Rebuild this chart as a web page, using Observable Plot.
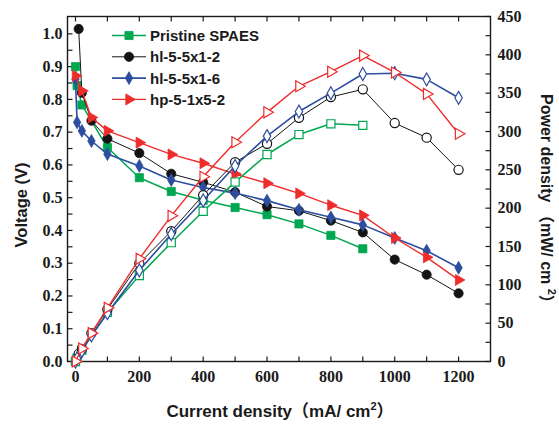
<!DOCTYPE html>
<html><head><meta charset="utf-8">
<script src="https://cdn.jsdelivr.net/npm/d3@7"></script>
<script src="https://cdn.jsdelivr.net/npm/@observablehq/plot@0.6"></script>
<style>
body{margin:0;background:#fff}
#chart{position:relative;width:559px;height:427px}
</style>
</head><body><div id="chart"></div>
<script>
// ---- data ----
const seriesNames = ["Pristine SPAES", "hl-5-5x1-2", "hl-5-5x1-6", "hp-5-1x5-2"];
const seriesColors = ["#00a650", "#141414", "#2d4e9f", "#ee2c2c"];

const xPristine = [0, 5, 20, 100, 200, 300, 400, 500, 600, 700, 800, 900];
const vPristine = [0.900, 0.842, 0.783, 0.653, 0.561, 0.519, 0.492, 0.470, 0.448, 0.420, 0.385, 0.344];
const pPristine = [0, 4, 15, 64, 112, 155, 196, 234, 270, 296, 310, 308];

const xHl2 = [10, 20, 50, 100, 200, 300, 400, 500, 600, 700, 800, 900, 1000, 1100, 1200];
const vHl2 = [1.015, 0.820, 0.735, 0.680, 0.636, 0.573, 0.547, 0.517, 0.473, 0.460, 0.430, 0.394, 0.311, 0.265, 0.208];
const pHl2 = [10, 16, 37, 68, 128, 170, 217, 260, 284, 318, 345, 355, 311, 292, 250];

const xHl6 = [0, 5, 20, 50, 100, 200, 300, 400, 500, 600, 700, 800, 900, 1000, 1100, 1200];
const vHl6 = [0.862, 0.730, 0.704, 0.673, 0.633, 0.597, 0.554, 0.531, 0.514, 0.491, 0.463, 0.440, 0.417, 0.377, 0.338, 0.286];
const pHl6 = [0, 4, 14, 34, 63, 119, 166, 210, 255, 294, 326, 350, 375, 376, 368, 344];

const xHp2 = [0, 20, 50, 100, 200, 300, 400, 500, 600, 700, 800, 900, 1000, 1100, 1200];
const vHp2 = [0.872, 0.826, 0.745, 0.704, 0.668, 0.632, 0.605, 0.572, 0.544, 0.513, 0.477, 0.446, 0.377, 0.318, 0.249];
const pHp2 = [0, 17, 37, 70, 134, 190, 241, 286, 325, 359, 378, 399, 377, 349, 297];

const xTicks = [0, 200, 400, 600, 800, 1000, 1200];
const xMinorTicks = [0, 100, 200, 300, 400, 500, 600, 700, 800, 900, 1000, 1100, 1200];
const vTicks = [0.0, 0.1, 0.2, 0.3, 0.4, 0.5, 0.6, 0.7, 0.8, 0.9, 1.0];
const vMinorTicks = d3.range(0, 1.05, 0.05);
const pTicks = [0, 50, 100, 150, 200, 250, 300, 350, 400, 450];
const pMinorTicks = d3.range(0, 451, 25);

const xDomain = [-25, 1300];
const vMax = 1.053, pMax = 450;
const k = vMax / pMax; // power -> voltage-scale factor

// ---- build rows ----
const raw = [
  [xPristine, vPristine, pPristine],
  [xHl2, vHl2, pHl2],
  [xHl6, vHl6, pHl6],
  [xHp2, vHp2, pHp2]
];
const symbols = ["square", "circle", "diamond", "triangle"];
const radii = [4.6, 4.6, 3.9, 4.1];
const rotates = [0, 0, 0, 90];
const widths = [1.5, 1.0, 1.6, 1.4];

const tickSym = (dx, dy) => ({draw(ctx) { ctx.moveTo(0, 0); ctx.lineTo(dx, dy); }});
const serif = "'Liberation Serif', 'Times New Roman', serif";
const sans = "'Liberation Sans', Arial, 'Noto Sans CJK SC', sans-serif";

const vMarks = [], pMarks = [];
raw.forEach(([xs, vs, ps], i) => {
  const rows = xs.map((x, j) => ({x, v: vs[j], p: ps[j] * k}));
  const c = seriesColors[i];
  vMarks.push(Plot.line(rows, {x: "x", y: "v", stroke: c, strokeWidth: widths[i]}));
  vMarks.push(Plot.dot(rows, {x: "x", y: "v", symbol: symbols[i], r: radii[i], rotate: rotates[i], fill: c, stroke: c, strokeWidth: 0.8}));
  pMarks.push(Plot.line(rows, {x: "x", y: "p", stroke: c, strokeWidth: widths[i]}));
  pMarks.push(Plot.dot(rows, {x: "x", y: "p", symbol: symbols[i], r: radii[i], rotate: rotates[i], fill: "white", stroke: c, strokeWidth: 1.2}));
});

const labelOpts = {tickSize: 0, label: null, fontSize: 16, fontFamily: serif, fontWeight: "bold", fill: "#1a1a1a"};

const chart = Plot.plot({
  width: 559, height: 427,
  marginLeft: 67, marginRight: 69, marginTop: 16, marginBottom: 66,
  x: {domain: xDomain},
  y: {domain: [0, vMax]},
  style: {background: "white", color: "#1a1a1a"},
  marks: [
    Plot.frame({stroke: "#1a1a1a", strokeWidth: 1.4}),
    Plot.axisX({ticks: xTicks, tickFormat: d => String(d), tickPadding: 9, ...labelOpts}),
    Plot.axisY({ticks: vTicks, tickFormat: d3.format(".1f"), tickPadding: 5, ...labelOpts}),
    Plot.axisY({anchor: "right", ticks: pTicks.map(p => p * k), tickFormat: d => String(Math.round(d / k)), tickPadding: 7, ...labelOpts}),
    Plot.dot(xMinorTicks, {x: d => d, frameAnchor: "bottom", symbol: tickSym(0, -5), stroke: "#1a1a1a", fill: "none", strokeWidth: 1.2}),
    Plot.dot(xMinorTicks, {x: d => d, frameAnchor: "top", symbol: tickSym(0, 5), stroke: "#1a1a1a", fill: "none", strokeWidth: 1.2}),
    Plot.dot(vMinorTicks, {y: d => d, frameAnchor: "left", symbol: tickSym(5, 0), stroke: "#1a1a1a", fill: "none", strokeWidth: 1.2}),
    Plot.dot(pMinorTicks.map(p => p * k), {y: d => d, frameAnchor: "right", symbol: tickSym(-5, 0), stroke: "#1a1a1a", fill: "none", strokeWidth: 1.2}),
    ...vMarks,
    ...pMarks
  ]
});
document.getElementById("chart").appendChild(chart);

// ---- titles & legend ----
const svg = d3.select(chart);

const xt = svg.append("text").attr("x", 280).attr("y", 417).attr("text-anchor", "middle")
  .attr("font-family", sans).attr("font-size", 17).attr("font-weight", "bold").attr("fill", "#1a1a1a");
xt.append("tspan").text("Current density（mA/ cm");
xt.append("tspan").attr("dy", -7).attr("font-size", 11).text("2");
xt.append("tspan").attr("dy", 7).text("）");

svg.append("text").attr("transform", "translate(27,205) rotate(-90)").attr("text-anchor", "middle")
  .attr("font-family", sans).attr("font-size", 16.5).attr("font-weight", "bold").attr("fill", "#1a1a1a")
  .text("Voltage (V)");

const rt = svg.append("text").attr("transform", "translate(541,94) rotate(90)").attr("text-anchor", "start")
  .attr("font-family", sans).attr("font-size", 16).attr("font-weight", "bold").attr("fill", "#1a1a1a");
rt.append("tspan").text("Power density （mW/ cm ");
rt.append("tspan").attr("dy", -7).attr("font-size", 11).text("2");
rt.append("tspan").attr("dy", 7).text("）");

const symMap = {square: d3.symbolSquare, circle: d3.symbolCircle, diamond: d3.symbolDiamond, triangle: d3.symbolTriangle};
const lg = svg.append("g");
seriesNames.forEach((name, i) => {
  const y = 35.5 + i * 21.3;
  const c = seriesColors[i];
  lg.append("line").attr("x1", 112).attr("x2", 146).attr("y1", y).attr("y2", y).attr("stroke", c).attr("stroke-width", widths[i]);
  lg.append("path").attr("d", d3.symbol(symMap[symbols[i]], Math.PI * radii[i] * radii[i])())
    .attr("transform", `translate(129,${y}) rotate(${rotates[i]})`).attr("fill", c).attr("stroke", c).attr("stroke-width", 0.8);
  lg.append("text").attr("x", 150).attr("y", y).attr("dy", "0.36em").attr("text-anchor", "start")
    .attr("font-family", sans).attr("font-size", 15).attr("font-weight", "bold").attr("fill", "#1a1a1a").text(name);
});
</script>
</body></html>
